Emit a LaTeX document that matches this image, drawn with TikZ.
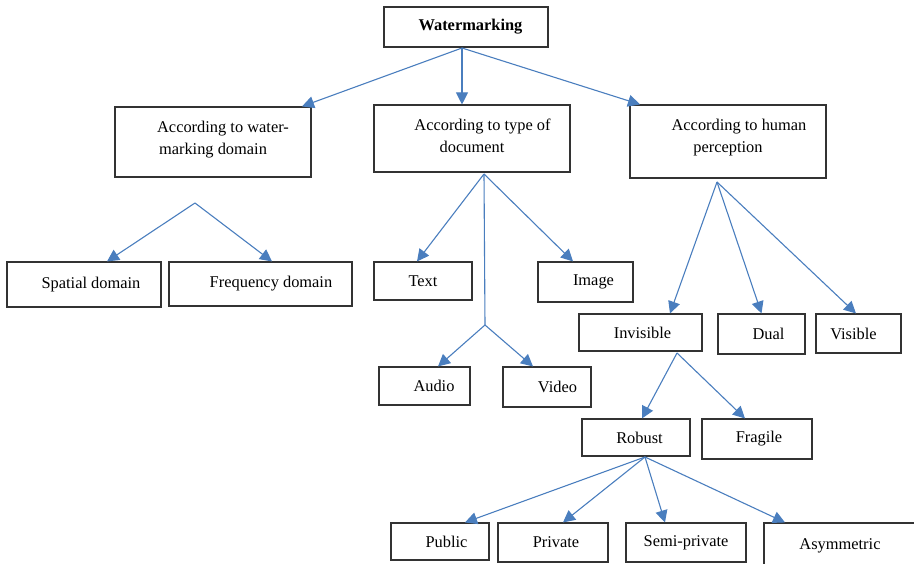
\documentclass[tikz,border=0pt]{standalone}
\usepackage{fontspec}
\setmainfont{Liberation Serif}
\usepackage{xcolor}
\usepackage{tikz}
\usetikzlibrary{arrows.meta}
\usetikzlibrary{calc}

\definecolor{linkblue}{RGB}{74,126,190}

\begin{document}
\begin{tikzpicture}[x=1pt, y=-1pt,
    box/.style={draw=black!80, line width=1.1pt, inner sep=0pt, align=center, font=\fontsize{16.4}{22}\selectfont},
    link/.style={draw=linkblue, line width=1.1pt, -{Triangle[length=12pt, width=12pt]}}]
    \useasboundingbox (0,0) rectangle (914,564);
    % boxes
    \node[box, minimum width=164pt, minimum height=40pt, font=\bfseries\fontsize{16.4}{22}\selectfont] (water) at (466,27) {\hspace*{9pt}Watermarking};
    \node[box, minimum width=196pt, minimum height=70pt] (dom) at (213,142) {\hspace*{20pt}According to water-\\marking domain\\[-14pt]};
    \node[box, minimum width=196pt, minimum height=67pt] (type) at (472,138.5) {\hspace*{21pt}According to type of\\document\\[-17pt]};
    \node[box, minimum width=196pt, minimum height=73pt] (human) at (728,141.5) {\hspace*{22pt}According to human\\perception\\[-11pt]};
    \node[box, minimum width=154pt, minimum height=45pt] (spatial) at (84,284.5) {\hspace*{14pt}Spatial domain};
    \node[box, minimum width=183pt, minimum height=44pt] (freq) at (260.5,284) {\hspace*{21pt}Frequency domain};
    \node[box, minimum width=98pt, minimum height=38pt] (textdoc) at (423,281) {Text};
    \node[box, minimum width=95pt, minimum height=40pt] (imagedoc) at (585.5,282) {\hspace*{16pt}Image};
    \node[box, minimum width=91pt, minimum height=38pt] (audio) at (424.5,386) {\hspace*{19pt}Audio};
    \node[box, minimum width=88pt, minimum height=40pt] (video) at (547,387) {\hspace*{21pt}Video};
    \node[box, minimum width=123pt, minimum height=37pt] (invis) at (640.5,332.5) {\hspace*{4pt}Invisible};
    \node[box, minimum width=87pt, minimum height=40pt] (dual) at (761.5,334) {\hspace*{14pt}Dual};
    \node[box, minimum width=85pt, minimum height=39pt] (visible) at (858.5,333.5) {Visible\hspace*{10pt}};
    \node[box, minimum width=108pt, minimum height=37pt] (robust) at (636,437.5) {\hspace*{7pt}Robust};
    \node[box, minimum width=110pt, minimum height=40pt] (fragile) at (757,439) {\hspace*{4pt}Fragile};
    \node[box, minimum width=98pt, minimum height=37pt] (public) at (440,541.5) {\hspace*{13pt}Public};
    \node[box, minimum width=110pt, minimum height=39pt] (private) at (553,542.5) {\hspace*{6pt}Private};
    \node[box, minimum width=120pt, minimum height=39pt] (semi) at (686,542.5) {Semi-private};
    \node[box, minimum width=152pt, minimum height=45pt] (asym) at (840,545.5) {Asymmetric};
    % branching points
    \coordinate (wfork) at (462,48);
    \coordinate (domfork) at (195,203);
    \coordinate (typefork) at (484,174);
    \coordinate (typemid) at (485,325);
    \coordinate (humfork) at (717,182);
    \coordinate (invfork) at (677,353);
    \coordinate (robfork) at (645,457);
    % arrows
    \draw[link] (wfork) -- ([xshift=89pt]dom.north);
    \draw[link] (wfork) -- ([xshift=-10pt]type.north);
    \draw[link] (wfork) -- ([xshift=-88pt]human.north);
    \draw[link] (domfork) -- ([xshift=23pt]spatial.north);
    \draw[link] (domfork) -- ([xshift=11.5pt]freq.north);
    \draw[link] (typefork) -- ([xshift=-6pt]textdoc.north);
    \draw[link] (typefork) -- ([xshift=-12.5pt]imagedoc.north);
    \draw[link, -] (typefork) -- (typemid);
    \draw[link] (typemid) -- ([xshift=13.5pt]audio.north);
    \draw[link] (typemid) -- ([xshift=-14pt]video.north);
    \draw[link] (humfork) -- ([xshift=29.5pt]invis.north);
    \draw[link] (humfork) -- (dual.north);
    \draw[link] (humfork) -- ([xshift=-2.5pt]visible.north);
    \draw[link] (invfork) -- ([xshift=6pt]robust.north);
    \draw[link] (invfork) -- ([xshift=-12pt]fragile.north);
    \draw[link] (robfork) -- ([xshift=25pt]public.north);
    \draw[link] (robfork) -- ([xshift=10pt]private.north);
    \draw[link] (robfork) -- ([xshift=-21pt]semi.north);
    \draw[link] (robfork) -- ([xshift=-55pt]asym.north);
\end{tikzpicture}
\end{document}
